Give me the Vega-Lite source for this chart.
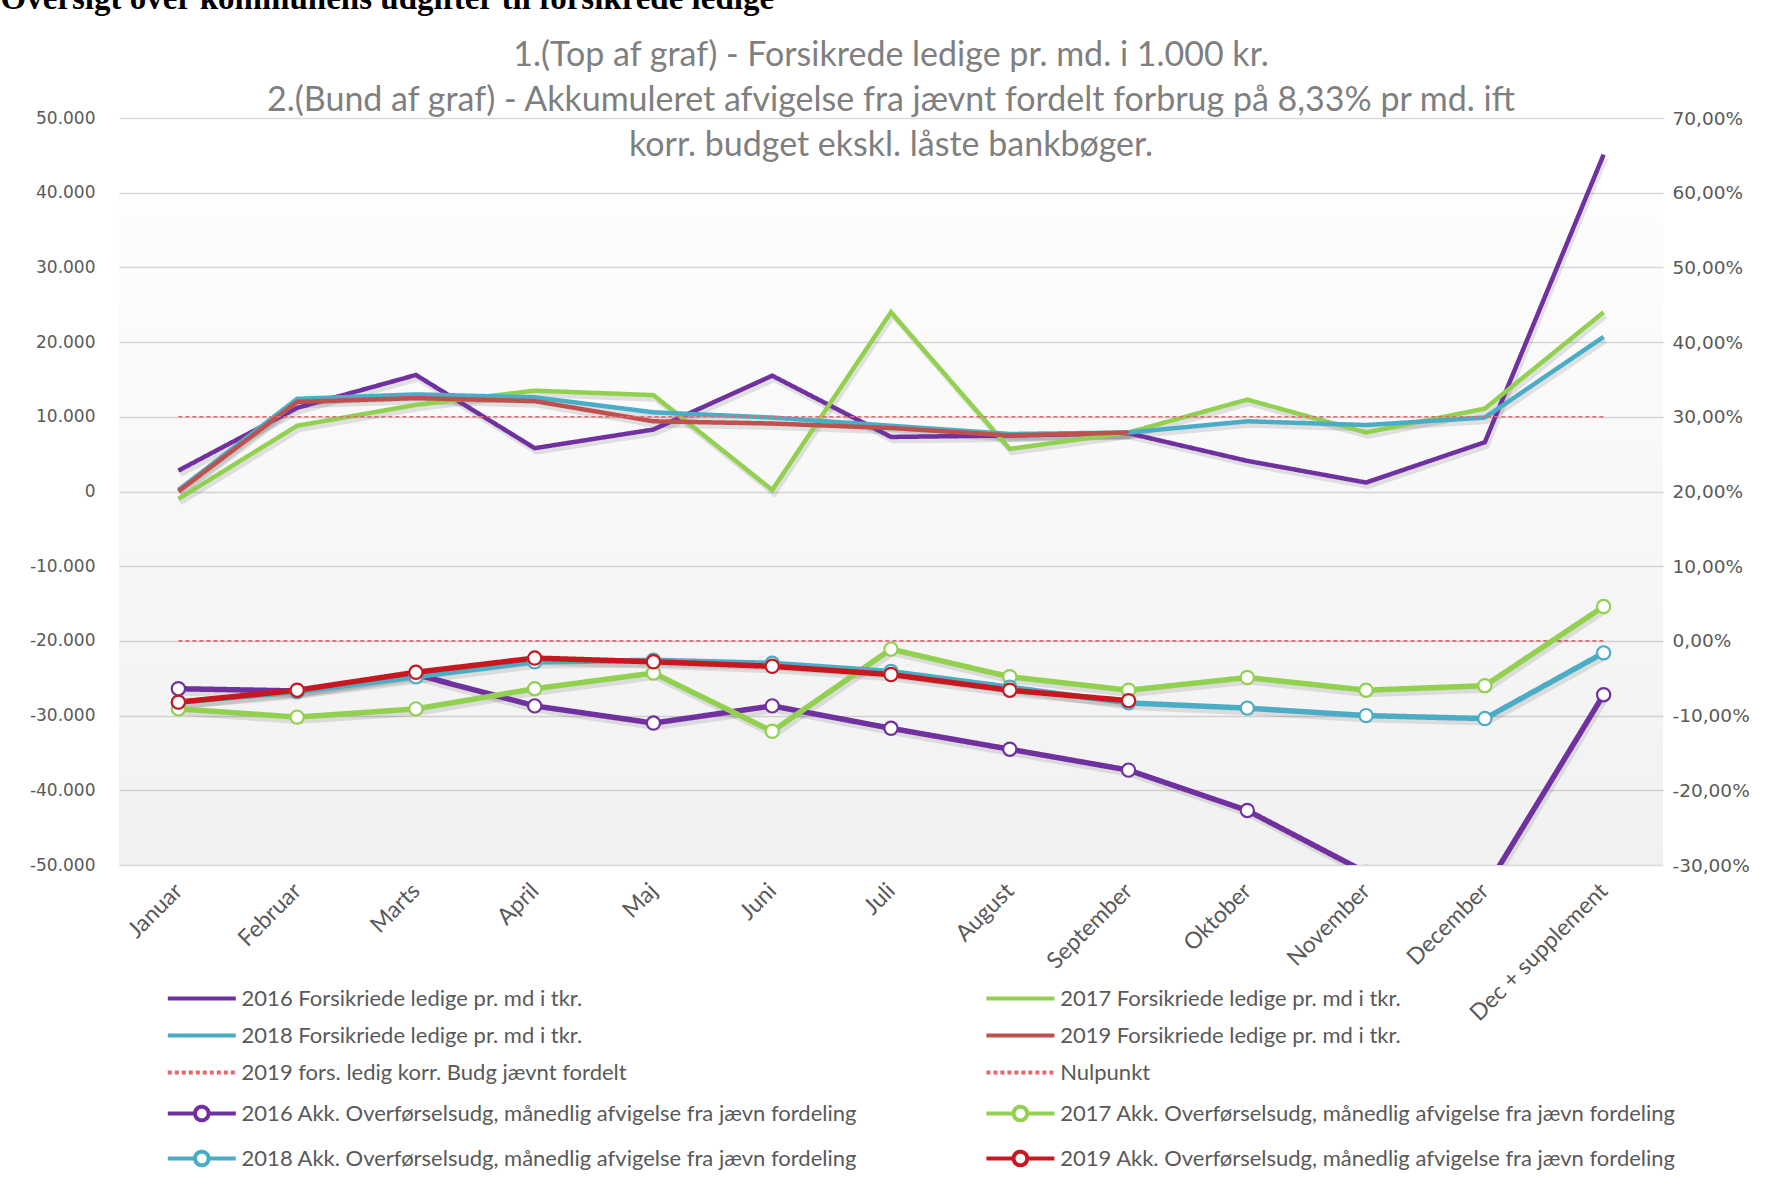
{
  "$schema": "https://vega.github.io/schema/vega-lite/v6.json",
  "width": 1544,
  "height": 747,
  "autosize": {"type": "none"},
  "padding": {"left": 119, "top": 118, "right": 111, "bottom": 332},
  "background": "white",
  "config": {
    "locale": {"number": {"decimal": ",", "thousands": ".", "grouping": [3], "currency": ["", " kr."], "minus": "-", "percent": "%"}},
    "view": {"stroke": null},
    "axis": {"labelColor": "#595959", "domain": false, "ticks": false}
  },
  "title": {
    "text": ["1.(Top af graf) - Forsikrede ledige pr. md. i 1.000 kr.", "2.(Bund af graf) - Akkumuleret afvigelse fra jævnt fordelt forbrug på 8,33% pr md. ift", "korr. budget ekskl. låste bankbøger."],
    "anchor": "middle",
    "frame": "group",
    "font": "Lato",
    "fontSize": 34,
    "fontWeight": "normal",
    "color": "#7F7F7F",
    "lineHeight": 45,
    "offset": -181
  },
  "datasets": {
    "fors": [
      {"m": "Januar", "s": "2016 Forsikriede ledige pr. md i tkr.", "v": 2800},
      {"m": "Februar", "s": "2016 Forsikriede ledige pr. md i tkr.", "v": 11200},
      {"m": "Marts", "s": "2016 Forsikriede ledige pr. md i tkr.", "v": 15600},
      {"m": "April", "s": "2016 Forsikriede ledige pr. md i tkr.", "v": 5800},
      {"m": "Maj", "s": "2016 Forsikriede ledige pr. md i tkr.", "v": 8300},
      {"m": "Juni", "s": "2016 Forsikriede ledige pr. md i tkr.", "v": 15500},
      {"m": "Juli", "s": "2016 Forsikriede ledige pr. md i tkr.", "v": 7300},
      {"m": "August", "s": "2016 Forsikriede ledige pr. md i tkr.", "v": 7500},
      {"m": "September", "s": "2016 Forsikriede ledige pr. md i tkr.", "v": 7800},
      {"m": "Oktober", "s": "2016 Forsikriede ledige pr. md i tkr.", "v": 4100},
      {"m": "November", "s": "2016 Forsikriede ledige pr. md i tkr.", "v": 1200},
      {"m": "December", "s": "2016 Forsikriede ledige pr. md i tkr.", "v": 6600},
      {"m": "Dec + supplement", "s": "2016 Forsikriede ledige pr. md i tkr.", "v": 45100},
      {"m": "Januar", "s": "2017 Forsikriede ledige pr. md i tkr.", "v": -1000},
      {"m": "Februar", "s": "2017 Forsikriede ledige pr. md i tkr.", "v": 8800},
      {"m": "Marts", "s": "2017 Forsikriede ledige pr. md i tkr.", "v": 11600},
      {"m": "April", "s": "2017 Forsikriede ledige pr. md i tkr.", "v": 13500},
      {"m": "Maj", "s": "2017 Forsikriede ledige pr. md i tkr.", "v": 12900},
      {"m": "Juni", "s": "2017 Forsikriede ledige pr. md i tkr.", "v": 200},
      {"m": "Juli", "s": "2017 Forsikriede ledige pr. md i tkr.", "v": 24000},
      {"m": "August", "s": "2017 Forsikriede ledige pr. md i tkr.", "v": 5700},
      {"m": "September", "s": "2017 Forsikriede ledige pr. md i tkr.", "v": 7900},
      {"m": "Oktober", "s": "2017 Forsikriede ledige pr. md i tkr.", "v": 12300},
      {"m": "November", "s": "2017 Forsikriede ledige pr. md i tkr.", "v": 7900},
      {"m": "December", "s": "2017 Forsikriede ledige pr. md i tkr.", "v": 11100},
      {"m": "Dec + supplement", "s": "2017 Forsikriede ledige pr. md i tkr.", "v": 24000},
      {"m": "Januar", "s": "2018 Forsikriede ledige pr. md i tkr.", "v": 200},
      {"m": "Februar", "s": "2018 Forsikriede ledige pr. md i tkr.", "v": 12400},
      {"m": "Marts", "s": "2018 Forsikriede ledige pr. md i tkr.", "v": 13000},
      {"m": "April", "s": "2018 Forsikriede ledige pr. md i tkr.", "v": 12600},
      {"m": "Maj", "s": "2018 Forsikriede ledige pr. md i tkr.", "v": 10600},
      {"m": "Juni", "s": "2018 Forsikriede ledige pr. md i tkr.", "v": 9900},
      {"m": "Juli", "s": "2018 Forsikriede ledige pr. md i tkr.", "v": 8800},
      {"m": "August", "s": "2018 Forsikriede ledige pr. md i tkr.", "v": 7700},
      {"m": "September", "s": "2018 Forsikriede ledige pr. md i tkr.", "v": 7900},
      {"m": "Oktober", "s": "2018 Forsikriede ledige pr. md i tkr.", "v": 9400},
      {"m": "November", "s": "2018 Forsikriede ledige pr. md i tkr.", "v": 8900},
      {"m": "December", "s": "2018 Forsikriede ledige pr. md i tkr.", "v": 9900},
      {"m": "Dec + supplement", "s": "2018 Forsikriede ledige pr. md i tkr.", "v": 20700},
      {"m": "Januar", "s": "2019 Forsikriede ledige pr. md i tkr.", "v": 0},
      {"m": "Februar", "s": "2019 Forsikriede ledige pr. md i tkr.", "v": 12000},
      {"m": "Marts", "s": "2019 Forsikriede ledige pr. md i tkr.", "v": 12500},
      {"m": "April", "s": "2019 Forsikriede ledige pr. md i tkr.", "v": 12100},
      {"m": "Maj", "s": "2019 Forsikriede ledige pr. md i tkr.", "v": 9400},
      {"m": "Juni", "s": "2019 Forsikriede ledige pr. md i tkr.", "v": 9100},
      {"m": "Juli", "s": "2019 Forsikriede ledige pr. md i tkr.", "v": 8500},
      {"m": "August", "s": "2019 Forsikriede ledige pr. md i tkr.", "v": 7500},
      {"m": "September", "s": "2019 Forsikriede ledige pr. md i tkr.", "v": 7900}
    ],
    "budget": [
      {"m": "Januar", "s": "2019 fors. ledig korr. Budg jævnt fordelt", "v": 10000},
      {"m": "Februar", "s": "2019 fors. ledig korr. Budg jævnt fordelt", "v": 10000},
      {"m": "Marts", "s": "2019 fors. ledig korr. Budg jævnt fordelt", "v": 10000},
      {"m": "April", "s": "2019 fors. ledig korr. Budg jævnt fordelt", "v": 10000},
      {"m": "Maj", "s": "2019 fors. ledig korr. Budg jævnt fordelt", "v": 10000},
      {"m": "Juni", "s": "2019 fors. ledig korr. Budg jævnt fordelt", "v": 10000},
      {"m": "Juli", "s": "2019 fors. ledig korr. Budg jævnt fordelt", "v": 10000},
      {"m": "August", "s": "2019 fors. ledig korr. Budg jævnt fordelt", "v": 10000},
      {"m": "September", "s": "2019 fors. ledig korr. Budg jævnt fordelt", "v": 10000},
      {"m": "Oktober", "s": "2019 fors. ledig korr. Budg jævnt fordelt", "v": 10000},
      {"m": "November", "s": "2019 fors. ledig korr. Budg jævnt fordelt", "v": 10000},
      {"m": "December", "s": "2019 fors. ledig korr. Budg jævnt fordelt", "v": 10000},
      {"m": "Dec + supplement", "s": "2019 fors. ledig korr. Budg jævnt fordelt", "v": 10000}
    ],
    "nul": [
      {"m": "Januar", "s": "Nulpunkt", "v": 0},
      {"m": "Februar", "s": "Nulpunkt", "v": 0},
      {"m": "Marts", "s": "Nulpunkt", "v": 0},
      {"m": "April", "s": "Nulpunkt", "v": 0},
      {"m": "Maj", "s": "Nulpunkt", "v": 0},
      {"m": "Juni", "s": "Nulpunkt", "v": 0},
      {"m": "Juli", "s": "Nulpunkt", "v": 0},
      {"m": "August", "s": "Nulpunkt", "v": 0},
      {"m": "September", "s": "Nulpunkt", "v": 0},
      {"m": "Oktober", "s": "Nulpunkt", "v": 0},
      {"m": "November", "s": "Nulpunkt", "v": 0},
      {"m": "December", "s": "Nulpunkt", "v": 0},
      {"m": "Dec + supplement", "s": "Nulpunkt", "v": 0}
    ],
    "akk": [
      {"m": "Januar", "s": "2016 Akk. Overførselsudg, månedlig afvigelse fra jævn fordeling", "v": -0.064},
      {"m": "Februar", "s": "2016 Akk. Overførselsudg, månedlig afvigelse fra jævn fordeling", "v": -0.067},
      {"m": "Marts", "s": "2016 Akk. Overførselsudg, månedlig afvigelse fra jævn fordeling", "v": -0.045},
      {"m": "April", "s": "2016 Akk. Overførselsudg, månedlig afvigelse fra jævn fordeling", "v": -0.087},
      {"m": "Maj", "s": "2016 Akk. Overførselsudg, månedlig afvigelse fra jævn fordeling", "v": -0.110},
      {"m": "Juni", "s": "2016 Akk. Overførselsudg, månedlig afvigelse fra jævn fordeling", "v": -0.087},
      {"m": "Juli", "s": "2016 Akk. Overførselsudg, månedlig afvigelse fra jævn fordeling", "v": -0.117},
      {"m": "August", "s": "2016 Akk. Overførselsudg, månedlig afvigelse fra jævn fordeling", "v": -0.145},
      {"m": "September", "s": "2016 Akk. Overførselsudg, månedlig afvigelse fra jævn fordeling", "v": -0.173},
      {"m": "Oktober", "s": "2016 Akk. Overførselsudg, månedlig afvigelse fra jævn fordeling", "v": -0.227},
      {"m": "November", "s": "2016 Akk. Overførselsudg, månedlig afvigelse fra jævn fordeling", "v": -0.310},
      {"m": "December", "s": "2016 Akk. Overførselsudg, månedlig afvigelse fra jævn fordeling", "v": -0.333},
      {"m": "Dec + supplement", "s": "2016 Akk. Overførselsudg, månedlig afvigelse fra jævn fordeling", "v": -0.072},
      {"m": "Januar", "s": "2017 Akk. Overførselsudg, månedlig afvigelse fra jævn fordeling", "v": -0.091},
      {"m": "Februar", "s": "2017 Akk. Overførselsudg, månedlig afvigelse fra jævn fordeling", "v": -0.102},
      {"m": "Marts", "s": "2017 Akk. Overførselsudg, månedlig afvigelse fra jævn fordeling", "v": -0.091},
      {"m": "April", "s": "2017 Akk. Overførselsudg, månedlig afvigelse fra jævn fordeling", "v": -0.064},
      {"m": "Maj", "s": "2017 Akk. Overførselsudg, månedlig afvigelse fra jævn fordeling", "v": -0.043},
      {"m": "Juni", "s": "2017 Akk. Overførselsudg, månedlig afvigelse fra jævn fordeling", "v": -0.121},
      {"m": "Juli", "s": "2017 Akk. Overførselsudg, månedlig afvigelse fra jævn fordeling", "v": -0.011},
      {"m": "August", "s": "2017 Akk. Overførselsudg, månedlig afvigelse fra jævn fordeling", "v": -0.048},
      {"m": "September", "s": "2017 Akk. Overførselsudg, månedlig afvigelse fra jævn fordeling", "v": -0.066},
      {"m": "Oktober", "s": "2017 Akk. Overførselsudg, månedlig afvigelse fra jævn fordeling", "v": -0.049},
      {"m": "November", "s": "2017 Akk. Overførselsudg, månedlig afvigelse fra jævn fordeling", "v": -0.066},
      {"m": "December", "s": "2017 Akk. Overførselsudg, månedlig afvigelse fra jævn fordeling", "v": -0.060},
      {"m": "Dec + supplement", "s": "2017 Akk. Overførselsudg, månedlig afvigelse fra jævn fordeling", "v": 0.046},
      {"m": "Januar", "s": "2018 Akk. Overførselsudg, månedlig afvigelse fra jævn fordeling", "v": -0.082},
      {"m": "Februar", "s": "2018 Akk. Overførselsudg, månedlig afvigelse fra jævn fordeling", "v": -0.068},
      {"m": "Marts", "s": "2018 Akk. Overførselsudg, månedlig afvigelse fra jævn fordeling", "v": -0.048},
      {"m": "April", "s": "2018 Akk. Overførselsudg, månedlig afvigelse fra jævn fordeling", "v": -0.028},
      {"m": "Maj", "s": "2018 Akk. Overførselsudg, månedlig afvigelse fra jævn fordeling", "v": -0.026},
      {"m": "Juni", "s": "2018 Akk. Overførselsudg, månedlig afvigelse fra jævn fordeling", "v": -0.030},
      {"m": "Juli", "s": "2018 Akk. Overførselsudg, månedlig afvigelse fra jævn fordeling", "v": -0.041},
      {"m": "August", "s": "2018 Akk. Overførselsudg, månedlig afvigelse fra jævn fordeling", "v": -0.062},
      {"m": "September", "s": "2018 Akk. Overførselsudg, månedlig afvigelse fra jævn fordeling", "v": -0.083},
      {"m": "Oktober", "s": "2018 Akk. Overførselsudg, månedlig afvigelse fra jævn fordeling", "v": -0.090},
      {"m": "November", "s": "2018 Akk. Overførselsudg, månedlig afvigelse fra jævn fordeling", "v": -0.100},
      {"m": "December", "s": "2018 Akk. Overførselsudg, månedlig afvigelse fra jævn fordeling", "v": -0.104},
      {"m": "Dec + supplement", "s": "2018 Akk. Overførselsudg, månedlig afvigelse fra jævn fordeling", "v": -0.016},
      {"m": "Januar", "s": "2019 Akk. Overførselsudg, månedlig afvigelse fra jævn fordeling", "v": -0.082},
      {"m": "Februar", "s": "2019 Akk. Overførselsudg, månedlig afvigelse fra jævn fordeling", "v": -0.066},
      {"m": "Marts", "s": "2019 Akk. Overførselsudg, månedlig afvigelse fra jævn fordeling", "v": -0.042},
      {"m": "April", "s": "2019 Akk. Overførselsudg, månedlig afvigelse fra jævn fordeling", "v": -0.023},
      {"m": "Maj", "s": "2019 Akk. Overførselsudg, månedlig afvigelse fra jævn fordeling", "v": -0.028},
      {"m": "Juni", "s": "2019 Akk. Overførselsudg, månedlig afvigelse fra jævn fordeling", "v": -0.034},
      {"m": "Juli", "s": "2019 Akk. Overførselsudg, månedlig afvigelse fra jævn fordeling", "v": -0.045},
      {"m": "August", "s": "2019 Akk. Overførselsudg, månedlig afvigelse fra jævn fordeling", "v": -0.066},
      {"m": "September", "s": "2019 Akk. Overførselsudg, månedlig afvigelse fra jævn fordeling", "v": -0.080}
    ]
  },
  "layer": [
    {
      "layer": [
        {
          "data": {"values": [{}]},
          "mark": {"type": "rect", "fill": {"gradient": "linear", "x1": 0, "y1": 0, "x2": 0, "y2": 1, "stops": [{"offset": 0, "color": "rgba(0,0,0,0.008)"}, {"offset": 1, "color": "rgba(0,0,0,0.055)"}]}},
          "encoding": {
            "y": {"datum": 40000, "type": "quantitative", "scale": {"domain": [-50000, 50000], "nice": false}},
            "y2": {"datum": -50000}
          }
        },
        {
          "data": {"name": "fors"},
          "mark": {"type": "line", "strokeWidth": 5, "color": "#000000", "opacity": 0.1, "xOffset": 2, "yOffset": 4},
          "encoding": {
            "x": {"field": "m", "type": "nominal", "sort": ["Januar", "Februar", "Marts", "April", "Maj", "Juni", "Juli", "August", "September", "Oktober", "November", "December", "Dec + supplement"]},
            "y": {"field": "v", "type": "quantitative"},
            "detail": {"field": "s"}
          }
        },
        {
          "data": {"name": "fors"},
          "mark": {"type": "line", "strokeWidth": 4.5},
          "encoding": {
            "x": {"field": "m", "type": "nominal", "sort": ["Januar", "Februar", "Marts", "April", "Maj", "Juni", "Juli", "August", "September", "Oktober", "November", "December", "Dec + supplement"], "scale": {"type": "point", "padding": 0.5, "domain": ["Januar", "Februar", "Marts", "April", "Maj", "Juni", "Juli", "August", "September", "Oktober", "November", "December", "Dec + supplement"]}, "axis": {"title": null, "labelAngle": -45, "labelFont": "Lato", "labelFontSize": 23, "labelPadding": 22, "labelLimit": 400, "labelColor": "#595959", "grid": false}},
            "y": {"field": "v", "type": "quantitative", "scale": {"domain": [-50000, 50000], "nice": false}, "axis": {"orient": "left", "values": [-50000, -40000, -30000, -20000, -10000, 0, 10000, 20000, 30000, 40000, 50000], "format": ",.0f", "labelFont": "DejaVu Sans", "labelFontSize": 17, "labelPadding": 24, "grid": true, "gridColor": "#D9D9D9", "gridWidth": 1.5, "title": "Oversigt over kommunens udgifter til forsikrede ledige", "titleAngle": 0, "titleAlign": "left", "titleBaseline": "alphabetic", "titleX": -119, "titleY": -110, "titleFont": "Liberation Serif", "titleFontWeight": "bold", "titleFontSize": 33, "titleColor": "#000000"}},
            "color": {"field": "s", "type": "nominal", "scale": {"domain": ["2016 Forsikriede ledige pr. md i tkr.", "2017 Forsikriede ledige pr. md i tkr.", "2018 Forsikriede ledige pr. md i tkr.", "2019 Forsikriede ledige pr. md i tkr.", "2019 fors. ledig korr. Budg jævnt fordelt", "Nulpunkt", "2016 Akk. Overførselsudg, månedlig afvigelse fra jævn fordeling", "2017 Akk. Overførselsudg, månedlig afvigelse fra jævn fordeling", "2018 Akk. Overførselsudg, månedlig afvigelse fra jævn fordeling", "2019 Akk. Overførselsudg, månedlig afvigelse fra jævn fordeling"], "range": ["#7030A0", "#92D050", "#4BACC6", "#C0504D", "#E4676D", "#E4676D", "#7030A0", "#92D050", "#4BACC6", "#C8171E"]},
              "legend": {
                "orient": "none", "legendX": 48, "legendY": 869.5, "direction": "horizontal", "columns": 2, "columnPadding": 119.6, "rowPadding": 15,
                "symbolSize": 185, "symbolOffset": 23.8, "labelOffset": 28.8, "symbolStrokeWidth": 4, "symbolOpacity": 1,
                "labelLimit": 1000, "title": null, "padding": 0,
                "labelFont": "Lato", "labelFontSize": 22, "labelColor": "#595959"
              }
            },
            "strokeDash": {"field": "s", "type": "nominal", "scale": {"domain": ["2016 Forsikriede ledige pr. md i tkr.", "2017 Forsikriede ledige pr. md i tkr.", "2018 Forsikriede ledige pr. md i tkr.", "2019 Forsikriede ledige pr. md i tkr.", "2019 fors. ledig korr. Budg jævnt fordelt", "Nulpunkt", "2016 Akk. Overførselsudg, månedlig afvigelse fra jævn fordeling", "2017 Akk. Overførselsudg, månedlig afvigelse fra jævn fordeling", "2018 Akk. Overførselsudg, månedlig afvigelse fra jævn fordeling", "2019 Akk. Overførselsudg, månedlig afvigelse fra jævn fordeling"], "range": [[1, 0], [1, 0], [1, 0], [1, 0], [4, 3], [4, 3], [1, 0], [1, 0], [1, 0], [1, 0]]}}
          }
        },
        {
          "data": {"name": "budget"},
          "mark": {"type": "line", "strokeWidth": 1.6},
          "encoding": {
            "x": {"field": "m", "type": "nominal", "sort": ["Januar", "Februar", "Marts", "April", "Maj", "Juni", "Juli", "August", "September", "Oktober", "November", "December", "Dec + supplement"]},
            "y": {"field": "v", "type": "quantitative"},
            "color": {"field": "s", "type": "nominal"},
            "strokeDash": {"field": "s", "type": "nominal"}
          }
        }
      ]
    },
    {
      "layer": [
        {
          "data": {"name": "nul"},
          "mark": {"type": "line", "strokeWidth": 1.6},
          "encoding": {
            "x": {"field": "m", "type": "nominal", "sort": ["Januar", "Februar", "Marts", "April", "Maj", "Juni", "Juli", "August", "September", "Oktober", "November", "December", "Dec + supplement"]},
            "y": {"field": "v", "type": "quantitative", "scale": {"domain": [-0.3, 0.7], "nice": false}, "axis": {"orient": "right", "values": [-0.3, -0.2, -0.1, 0, 0.1, 0.2, 0.3, 0.4, 0.5, 0.6, 0.7], "format": ".2%", "labelFont": "DejaVu Sans", "labelFontSize": 18.5, "labelPadding": 9, "grid": false, "title": null}},
            "color": {"field": "s", "type": "nominal"},
            "strokeDash": {"field": "s", "type": "nominal"}
          }
        },
        {
          "data": {"name": "akk"},
          "mark": {"type": "line", "strokeWidth": 6, "color": "#000000", "opacity": 0.1, "xOffset": 2, "yOffset": 4, "clip": true},
          "encoding": {
            "x": {"field": "m", "type": "nominal", "sort": ["Januar", "Februar", "Marts", "April", "Maj", "Juni", "Juli", "August", "September", "Oktober", "November", "December", "Dec + supplement"]},
            "y": {"field": "v", "type": "quantitative"},
            "detail": {"field": "s"}
          }
        },
        {
          "data": {"name": "akk"},
          "mark": {"type": "line", "strokeWidth": 5.5, "clip": true},
          "encoding": {
            "x": {"field": "m", "type": "nominal", "sort": ["Januar", "Februar", "Marts", "April", "Maj", "Juni", "Juli", "August", "September", "Oktober", "November", "December", "Dec + supplement"]},
            "y": {"field": "v", "type": "quantitative"},
            "color": {"field": "s", "type": "nominal"},
            "strokeDash": {"field": "s", "type": "nominal"}
          }
        },
        {
          "data": {"name": "akk"},
          "mark": {"type": "point", "filled": false, "fill": "white", "strokeWidth": 2.2, "size": 175, "shape": "circle", "opacity": 1, "clip": true},
          "encoding": {
            "x": {"field": "m", "type": "nominal", "sort": ["Januar", "Februar", "Marts", "April", "Maj", "Juni", "Juli", "August", "September", "Oktober", "November", "December", "Dec + supplement"]},
            "y": {"field": "v", "type": "quantitative"},
            "color": {"field": "s", "type": "nominal"}
          }
        },
        {
          "data": {"name": "akk"},
          "mark": {"type": "point", "opacity": 0, "clip": true},
          "encoding": {
            "x": {"field": "m", "type": "nominal", "sort": ["Januar", "Februar", "Marts", "April", "Maj", "Juni", "Juli", "August", "September", "Oktober", "November", "December", "Dec + supplement"]},
            "y": {"field": "v", "type": "quantitative"},
            "color": {"field": "s", "type": "nominal"},
            "shape": {"field": "s", "type": "nominal", "scale": {"domain": ["2016 Forsikriede ledige pr. md i tkr.", "2017 Forsikriede ledige pr. md i tkr.", "2018 Forsikriede ledige pr. md i tkr.", "2019 Forsikriede ledige pr. md i tkr.", "2019 fors. ledig korr. Budg jævnt fordelt", "Nulpunkt", "2016 Akk. Overførselsudg, månedlig afvigelse fra jævn fordeling", "2017 Akk. Overførselsudg, månedlig afvigelse fra jævn fordeling", "2018 Akk. Overførselsudg, månedlig afvigelse fra jævn fordeling", "2019 Akk. Overførselsudg, månedlig afvigelse fra jævn fordeling"], "range": ["M-5,0H5", "M-5,0H5", "M-5,0H5", "M-5,0H5", "M-5,0H5", "M-5,0H5", "M-5,0H-1M1,0H5M1,0A1,1,0,1,1,-1,0A1,1,0,1,1,1,0", "M-5,0H-1M1,0H5M1,0A1,1,0,1,1,-1,0A1,1,0,1,1,1,0", "M-5,0H-1M1,0H5M1,0A1,1,0,1,1,-1,0A1,1,0,1,1,1,0", "M-5,0H-1M1,0H5M1,0A1,1,0,1,1,-1,0A1,1,0,1,1,1,0"]}}
          }
        }
      ]
    }
  ],
  "resolve": {"scale": {"y": "independent"}}
}
